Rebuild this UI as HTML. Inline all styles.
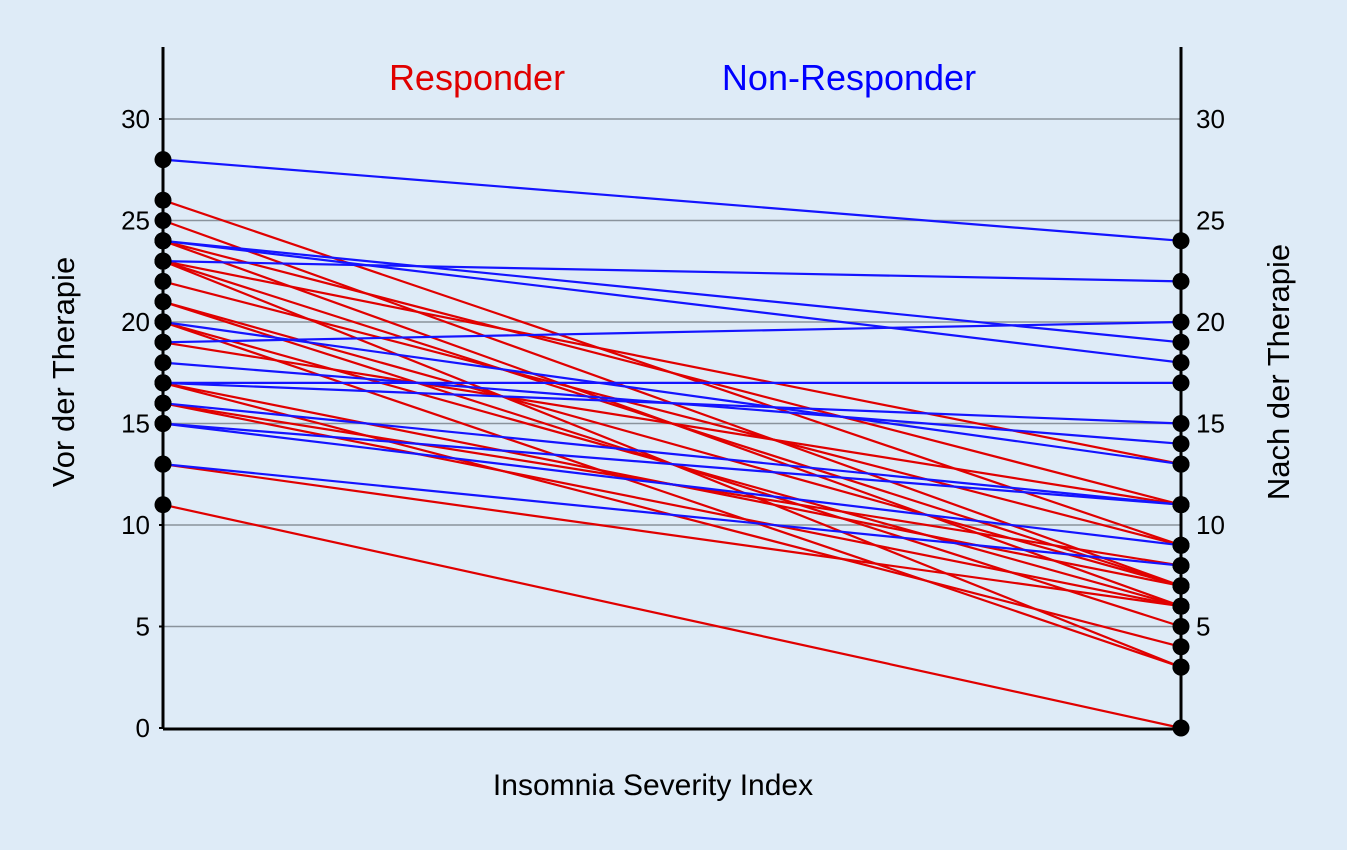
<!DOCTYPE html>
<html><head><meta charset="utf-8"><style>
html,body{margin:0;padding:0;background:#deebf7;}
svg{display:block;font-family:"Liberation Sans",sans-serif;}
</style></head><body>
<svg id="chart" width="1347" height="850" viewBox="0 0 1347 850">
<rect width="1347" height="850" fill="#deebf7"/>
<g id="grid"></g>
<g id="lines"></g>
<g id="axes"></g>
<g id="dots"></g>
<text x="477" y="90" fill="#e00000" font-size="36" text-anchor="middle">Responder</text>
<text x="849" y="90" fill="#0000ff" font-size="36" text-anchor="middle">Non-Responder</text>
<text x="653" y="795" fill="#000" font-size="30" text-anchor="middle">Insomnia Severity Index</text>
<text transform="translate(74,372) rotate(-90)" fill="#000" font-size="31" text-anchor="middle">Vor der Therapie</text>
<text transform="translate(1289,372) rotate(-90)" fill="#000" font-size="31" text-anchor="middle">Nach der Therapie</text>
</svg>
<script>
const ticks = [0,5,10,15,20,25,30];
const respBefore = [26,25,24,24,23,23,23,22,21,21,20,20,19,17,17,16,16,13,11];
const respAfter  = [9, 7, 11,6, 13,7, 3, 9, 7, 5, 6, 3, 11,7, 4, 8, 6, 6, 0];
const nonBefore = [28,23,24,24,19,17,20,18,17,16,15,15,13];
const nonAfter  = [24,22,19,18,20,17,13,14,15,11,11,9, 8];
const NS='http://www.w3.org/2000/svg';
const xL=163,xR=1181;
function y(v){return 728-v*(728-119)/30;}
function mk(tag,attrs,parent){const e=document.createElementNS(NS,tag);for(const k in attrs)e.setAttribute(k,attrs[k]);document.getElementById(parent).appendChild(e);return e;}
ticks.forEach(t=>{
  if(t>0){const g=mk('line',{x1:xL,x2:xR,y1:y(t),y2:y(t),stroke:'#8a939c','stroke-width':1.5},'grid');
  
  }
  const l=mk('text',{x:150,y:y(t)+9,'text-anchor':'end','font-size':26,fill:'#000'},'axes');l.textContent=t;
  
  
  if(t>0){const r=mk('text',{x:1196,y:y(t)+9,'font-size':26,fill:'#000'},'axes');r.textContent=t;
  
  }
  const tk=mk('line',{x1:xL-4,x2:xL,y1:y(t),y2:y(t),stroke:'#000','stroke-width':2},'axes');
  
  
});
[[xL,47,xL,729],[xR,47,xR,729],[xL,729,xR,729]].forEach(a=>{
  const l=mk('line',{x1:a[0],y1:a[1],x2:a[2],y2:a[3],stroke:'#000','stroke-width':3},'axes');
  
  
});
function draw(b,a,col,name){
  b.forEach((v,i)=>{
    const l=mk('line',{x1:xL,y1:y(v),x2:xR,y2:y(a[i]),stroke:col,'stroke-width':2.2},'lines');
    
    
    [[xL,v],[xR,a[i]]].forEach(p=>{
      const c=mk('circle',{cx:p[0],cy:y(p[1]),r:8.5,fill:'#000'},'dots');
      
      
    });
  });
}
draw(respBefore,respAfter,'#e00000','responder-line');
draw(nonBefore,nonAfter,'#1414ff','non-responder-line');
</script>
</body></html>
